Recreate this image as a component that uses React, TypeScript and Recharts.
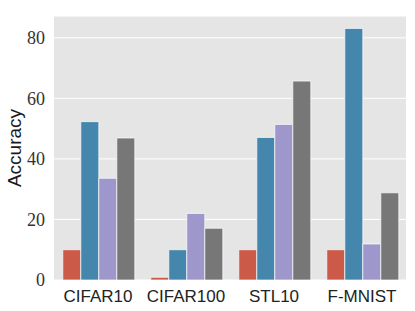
import React from 'react';
import { BarChart, Bar, XAxis, YAxis, CartesianGrid } from 'recharts';

const datasets = ['CIFAR10', 'CIFAR100', 'STL10', 'F-MNIST'];
const redSeries = [10, 0.9, 10, 10];
const blueSeries = [52.3, 10, 47.1, 83.1];
const purpleSeries = [33.6, 22, 51.4, 11.9];
const graySeries = [46.9, 17.1, 65.7, 28.8];
const yTicks = [0, 20, 40, 60, 80];

const data = datasets.map((name, i) => ({
  name,
  a: redSeries[i],
  b: blueSeries[i],
  c: purpleSeries[i],
  d: graySeries[i],
}));

const AxisTitle = (props: any) => {
  const vb = props.viewBox || { x: 0, y: 16, width: 54, height: 264 };
  const cx = vb.x + 14;
  const cy = vb.y + vb.height / 2;
  return (
    <text
      x={cx}
      y={cy}
      transform={`rotate(-90, ${cx}, ${cy})`}
      textAnchor="middle"
      dominantBaseline="central"
      style={{ fontFamily: "'Liberation Sans', sans-serif", fontSize: 19 }}
      fill="#1a1a1a"
    >
      Accuracy
    </text>
  );
};

export default function App() {
  return (
    <div style={{ position: 'absolute', left: 0, top: 0 }}>
      <BarChart
        width={415}
        height={311}
        data={data}
        margin={{ top: 16, right: 9, left: 0, bottom: 7 }}
        barCategoryGap="10%"
        barGap={0}
      >
        <CartesianGrid vertical={false} stroke="#ffffff" strokeWidth={1} fill="#e5e5e5" />
        <XAxis
          dataKey="name"
          height={24}
          axisLine={false}
          tickLine={false}
          tickMargin={4}
          tick={{ fontSize: 17, fontFamily: "'Liberation Sans', sans-serif", fill: '#222222' }}
        />
        <YAxis
          width={54}
          domain={[0, 87.2]}
          ticks={yTicks}
          axisLine={false}
          tickLine={false}
          tickMargin={3}
          tick={{ fontSize: 18, fontFamily: "'Liberation Serif', serif", fill: '#333333' }}
          label={AxisTitle}
        />
        <Bar dataKey="a" fill="#cc5a49" stroke="#ffffff" strokeWidth={0.7} isAnimationActive={false} />
        <Bar dataKey="b" fill="#4586ac" stroke="#ffffff" strokeWidth={0.7} isAnimationActive={false} />
        <Bar dataKey="c" fill="#9e97cc" stroke="#ffffff" strokeWidth={0.7} isAnimationActive={false} />
        <Bar dataKey="d" fill="#777777" stroke="#ffffff" strokeWidth={0.7} isAnimationActive={false} />
      </BarChart>
    </div>
  );
}
